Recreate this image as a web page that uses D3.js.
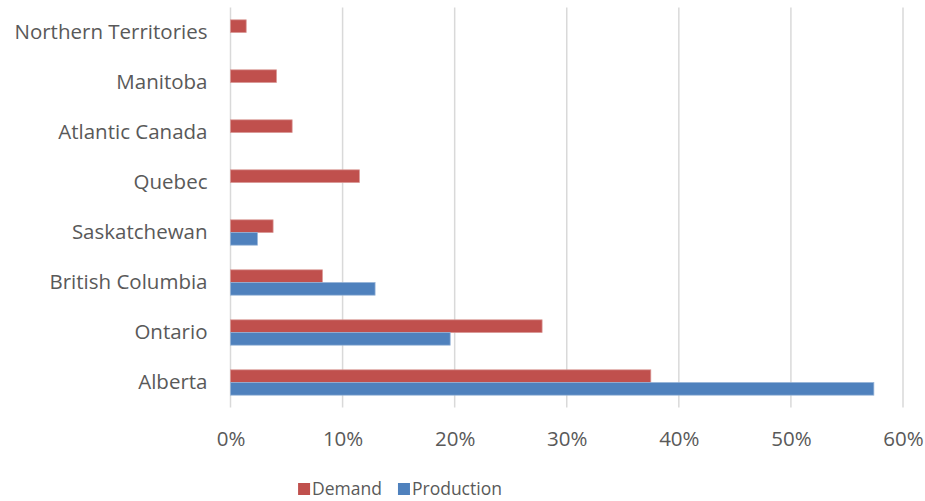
<!DOCTYPE html>
<html>
<head>
<meta charset="utf-8">
<script src="https://cdn.jsdelivr.net/npm/d3@7"></script>
<style>
  html, body { margin: 0; padding: 0; background: #fff; }
  svg { display: block; }
  text { font-family: "Open Sans", sans-serif; fill: #595959; }
</style>
</head>
<body>
<svg id="chart" width="925" height="501"></svg>
<script>
// Regions, listed top to bottom as drawn
const regions = ["Northern Territories", "Manitoba", "Atlantic Canada", "Quebec",
                 "Saskatchewan", "British Columbia", "Ontario", "Alberta"];
// Share of national total (%)
const demand     = [1.4, 4.1, 5.5, 11.5, 3.8, 8.2, 27.8, 37.5];
const production = [null, null, null, null, 2.4, 12.9, 19.6, 57.4];
const seriesNames = ["Demand", "Production"];
const seriesColors = ["#C0504D", "#4F81BD"];
const seriesStroke = ["#D99694", "#95B3D7"];
const xTicks = [0, 10, 20, 30, 40, 50, 60];

const FONT = 20.5;
const LEGEND_FONT = 17.5;
const svg = d3.select("#chart");
const plot = { left: 230.5, right: 903, top: 7.5, bottom: 407.5 };

const x = d3.scaleLinear().domain([0, 60]).range([plot.left, plot.right]);
const y = d3.scaleBand().domain(regions).range([plot.top, plot.bottom]);
const sub = d3.scaleBand().domain(seriesNames).range([0, y.bandwidth()]).paddingOuter(0.974);

// vertical gridlines
svg.append("g").selectAll("line").data(xTicks).join("line")
  .attr("x1", d => x(d)).attr("x2", d => x(d))
  .attr("y1", plot.top).attr("y2", plot.bottom)
  .attr("stroke", "#d9d9d9").attr("stroke-width", 1.5);

// bars
const rows = regions.map((r, i) => ({ region: r, values: [demand[i], production[i]] }));
const groups = svg.append("g").selectAll("g").data(rows).join("g")
  .attr("transform", d => `translate(0,${y(d.region)})`);
groups.selectAll("rect")
  .data(d => d.values.map((v, k) => ({ key: seriesNames[k], k, v })).filter(e => e.v != null))
  .join("rect")
  .attr("x", x(0))
  .attr("y", d => sub(d.key))
  .attr("width", d => x(d.v) - x(0))
  .attr("height", sub.bandwidth())
  .attr("fill", d => seriesColors[d.k])
  .attr("stroke", d => seriesStroke[d.k])
  .attr("stroke-width", 0.75);

// x axis labels
const xAxis = svg.append("g")
  .attr("transform", `translate(0,${plot.bottom + 21})`)
  .call(d3.axisBottom(x).tickValues(xTicks).tickSize(0).tickFormat(d => d + "%"));
xAxis.select(".domain").remove();
xAxis.selectAll("text").style("font-size", FONT + "px").attr("fill", "#595959").attr("dy", "0.71em");

// y axis labels
const yAxis = svg.append("g")
  .attr("transform", `translate(${plot.left - 23},0)`)
  .call(d3.axisLeft(y).tickSize(0).tickPadding(0));
yAxis.select(".domain").remove();
yAxis.selectAll("text").style("font-size", FONT + "px").attr("fill", "#595959");

// legend, laid out from measured label widths and centred under the chart
const legend = svg.append("g");
let cursor = 0;
const items = seriesNames.map((name, k) => {
  const g = legend.append("g").attr("transform", `translate(${cursor},0)`);
  g.append("rect").attr("y", 1).attr("width", 12).attr("height", 12).attr("fill", seriesColors[k]);
  const t = g.append("text").attr("x", 14).attr("y", 13)
    .style("font-size", LEGEND_FONT + "px").text(name);
  cursor += 14 + t.node().getComputedTextLength() + 16;
  return g;
});
const legendWidth = cursor - 16;
legend.attr("transform", `translate(${400 - legendWidth / 2},482)`);
</script>
</body>
</html>
